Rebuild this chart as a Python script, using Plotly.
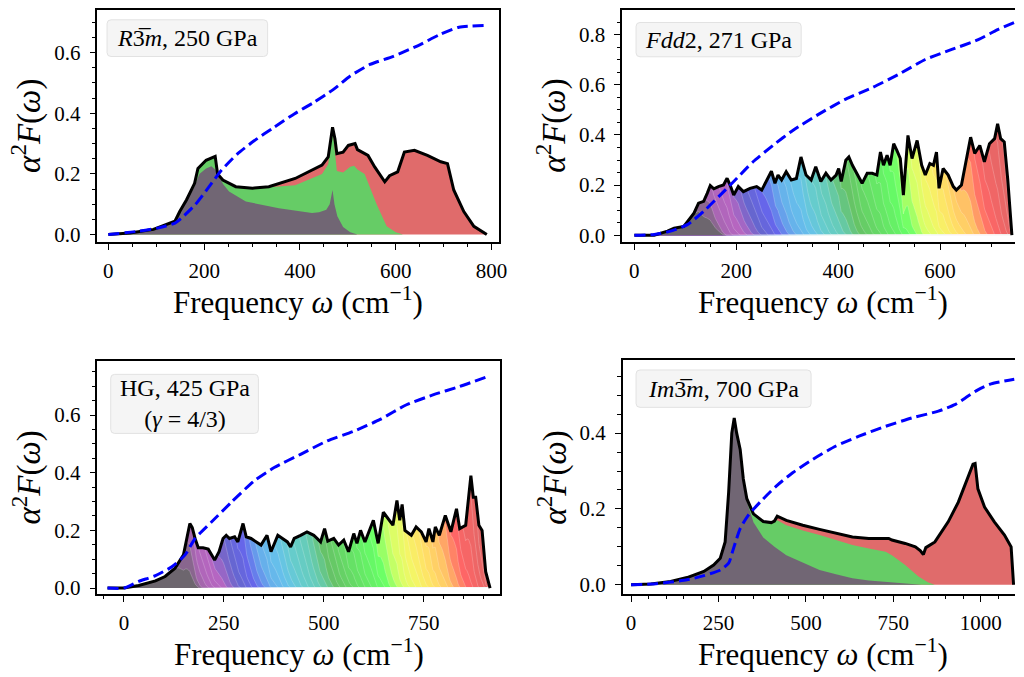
import numpy as np
import plotly.graph_objects as go

W, H = 1024, 677

# ---------------- data ----------------
# Panel 1: R-3m, 250 GPa (three stacked contributions)
p1_w = [0, 45, 94, 139, 149, 163, 180, 187, 204, 214, 223, 228, 239, 266, 301, 335, 390, 446, 459, 468,
        473, 477, 490, 501, 515, 520, 542, 556, 577, 587, 604, 618, 639, 666, 694, 708, 721, 742, 763, 790]
p1_total = [0, 0.005, 0.017, 0.044, 0.076, 0.114, 0.169, 0.218, 0.245, 0.253, 0.258, 0.200, 0.180, 0.158,
            0.153, 0.158, 0.185, 0.229, 0.256, 0.354, 0.316, 0.267, 0.272, 0.294, 0.300, 0.280, 0.261, 0.223,
            0.174, 0.194, 0.207, 0.272, 0.278, 0.261, 0.240, 0.234, 0.147, 0.076, 0.027, 0.0]
p1_green_w = [0, 45, 94, 139, 149, 163, 180, 187, 204, 214, 223, 228, 239, 266, 301, 335, 390, 446, 459, 468,
              473, 477, 490, 505, 513, 520, 535, 546, 560, 581, 600, 615]
p1_green = [0, 0.005, 0.017, 0.044, 0.076, 0.114, 0.169, 0.218, 0.245, 0.253, 0.258, 0.200, 0.180, 0.158,
            0.153, 0.156, 0.163, 0.200, 0.232, 0.350, 0.280, 0.210, 0.205, 0.224, 0.227, 0.215, 0.200, 0.153,
            0.100, 0.027, 0.008, 0.0]
p1_gray_w = [0, 45, 94, 139, 149, 163, 180, 190, 204, 215, 223, 232, 240, 252, 287, 356, 425, 440, 455, 462,
             468, 472, 478, 490, 505, 520]
p1_gray = [0, 0.005, 0.017, 0.044, 0.076, 0.110, 0.160, 0.200, 0.218, 0.225, 0.215, 0.190, 0.165, 0.142,
           0.109, 0.087, 0.071, 0.074, 0.082, 0.100, 0.147, 0.100, 0.060, 0.025, 0.008, 0.0]
p1_lambda_w = [0, 63, 105, 139, 153, 181, 208, 236, 270, 305, 346, 388, 429, 470, 505, 546, 595, 650, 691, 732, 788]
p1_lambda = [0, 0.011, 0.022, 0.038, 0.055, 0.098, 0.153, 0.212, 0.267, 0.310, 0.354, 0.398, 0.436, 0.479,
             0.523, 0.561, 0.588, 0.626, 0.659, 0.684, 0.690]

# Panel 2: Fdd2, 271 GPa (many projected contributions)
p2_w = [0, 39, 65, 78, 97, 107, 117, 126, 136, 143, 149, 156, 165, 175, 182, 188, 195, 204, 214, 227, 240,
        250, 259, 269, 276, 282, 289, 298, 308, 318, 327, 337, 347, 356, 366, 376, 386, 396, 401, 406, 415,
        421, 428, 438, 447, 457, 467, 476, 483, 489, 496, 502, 509, 515, 522, 528, 537, 545, 555, 564, 571,
        580, 587, 593, 598, 606, 616, 626, 632, 642, 652, 660, 668, 678, 687, 697, 707, 713, 719, 726, 733, 741]
p2_total = [0, 0, 0.016, 0.028, 0.035, 0.062, 0.088, 0.128, 0.135, 0.167, 0.198, 0.185, 0.194, 0.200, 0.227,
            0.200, 0.160, 0.194, 0.174, 0.187, 0.194, 0.180, 0.214, 0.255, 0.207, 0.240, 0.220, 0.253, 0.220,
            0.226, 0.312, 0.240, 0.220, 0.273, 0.214, 0.247, 0.220, 0.240, 0.266, 0.214, 0.299, 0.312, 0.279,
            0.240, 0.207, 0.247, 0.247, 0.240, 0.332, 0.279, 0.319, 0.279, 0.365, 0.339, 0.306, 0.160, 0.398,
            0.306, 0.378, 0.279, 0.240, 0.286, 0.279, 0.332, 0.187, 0.266, 0.240, 0.194, 0.180, 0.200, 0.306,
            0.391, 0.326, 0.358, 0.293, 0.365, 0.385, 0.444, 0.385, 0.372, 0.220, 0.0]
p2_lambda_w = [0, 39, 71, 104, 136, 169, 195, 233, 272, 311, 363, 415, 467, 519, 571, 623, 675, 713, 746]
p2_lambda = [0, 0.003, 0.016, 0.042, 0.095, 0.161, 0.214, 0.293, 0.358, 0.418, 0.484, 0.543, 0.589, 0.642,
             0.701, 0.741, 0.780, 0.820, 0.849]
p2_first_edge, p2_band_lo, p2_band_hi, p2_nbands = 115, 138, 722, 45

# Panel 3: HG, 425 GPa (gamma = 4/3)
p3_w = [-41, 0, 37, 79, 103, 128, 149, 157, 165, 171, 178, 186, 198, 211, 219, 227, 238, 248, 256, 264, 277,
        285, 298, 306, 318, 331, 343, 358, 368, 385, 397, 409, 417, 426, 442, 458, 475, 492, 502, 510, 525,
        537, 550, 562, 575, 583, 592, 603, 624, 636, 649, 661, 673, 683, 690, 696, 703, 719, 731, 744, 756,
        763, 773, 779, 789, 804, 818, 832, 840, 855, 863, 868, 874, 880, 888, 896, 905, 916]
p3_total = [0, 0, 0.009, 0.025, 0.040, 0.069, 0.115, 0.172, 0.224, 0.210, 0.172, 0.140, 0.140, 0.135, 0.115,
            0.097, 0.126, 0.172, 0.183, 0.172, 0.178, 0.160, 0.224, 0.178, 0.172, 0.160, 0.149, 0.183, 0.126,
            0.183, 0.172, 0.160, 0.143, 0.172, 0.183, 0.195, 0.183, 0.160, 0.206, 0.163, 0.172, 0.149, 0.166,
            0.126, 0.189, 0.155, 0.200, 0.160, 0.235, 0.155, 0.263, 0.240, 0.218, 0.304, 0.235, 0.290, 0.200,
            0.183, 0.212, 0.195, 0.160, 0.206, 0.160, 0.212, 0.183, 0.252, 0.195, 0.275, 0.206, 0.218, 0.327,
            0.390, 0.315, 0.315, 0.218, 0.200, 0.057, 0.0]
p3_lambda_w = [-41, 0, 37, 79, 120, 153, 178, 219, 269, 326, 376, 442, 508, 575, 641, 707, 773, 839, 909]
p3_lambda = [0, 0, 0.023, 0.043, 0.074, 0.115, 0.172, 0.229, 0.298, 0.372, 0.418, 0.464, 0.510, 0.544,
             0.585, 0.636, 0.670, 0.699, 0.733]
p3_first_edge, p3_band_lo, p3_band_hi, p3_nbands = 128, 155, 895, 50

# Panel 4: Im-3m, 700 GPa (three stacked contributions)
p4_w = [0, 57, 113, 160, 208, 236, 255, 269, 279, 288, 295, 302, 312, 321, 331, 350, 378, 401, 410, 418, 444,
        491, 539, 586, 633, 680, 737, 746, 784, 813, 827, 836, 843, 869, 884, 907, 936, 959, 978, 984, 992,
        1011, 1039, 1068, 1087, 1094]
p4_total = [0, 0.002, 0.009, 0.019, 0.035, 0.052, 0.070, 0.113, 0.244, 0.400, 0.440, 0.400, 0.357, 0.279,
            0.227, 0.187, 0.167, 0.164, 0.168, 0.181, 0.170, 0.157, 0.146, 0.135, 0.126, 0.122, 0.122, 0.118,
            0.109, 0.100, 0.090, 0.080, 0.098, 0.113, 0.135, 0.166, 0.218, 0.270, 0.318, 0.320, 0.253, 0.205,
            0.166, 0.131, 0.100, 0.0]
p4_green_w = [0, 57, 113, 160, 208, 236, 255, 269, 279, 288, 295, 302, 312, 321, 331, 350, 378, 401, 410, 418,
              444, 491, 539, 586, 633, 680, 728, 746, 784, 822, 850, 869]
p4_green = [0, 0.002, 0.009, 0.019, 0.035, 0.052, 0.070, 0.113, 0.244, 0.400, 0.440, 0.400, 0.357, 0.279,
            0.227, 0.187, 0.167, 0.164, 0.168, 0.170, 0.157, 0.143, 0.131, 0.118, 0.105, 0.096, 0.087, 0.078,
            0.052, 0.022, 0.006, 0.0]
p4_gray_w = [0, 57, 113, 160, 208, 236, 255, 269, 279, 288, 295, 302, 312, 321, 331, 350, 378, 410, 444, 491,
             539, 586, 633, 680, 728, 780, 830]
p4_gray = [0, 0.002, 0.009, 0.019, 0.035, 0.052, 0.070, 0.113, 0.244, 0.400, 0.440, 0.400, 0.357, 0.270,
           0.220, 0.165, 0.125, 0.100, 0.078, 0.058, 0.039, 0.028, 0.017, 0.011, 0.007, 0.003, 0.0]
p4_lambda_w = [0, 57, 113, 160, 208, 255, 279, 293, 312, 335, 369, 416, 463, 520, 586, 652, 728, 803, 879,
               926, 963, 992, 1030, 1096]
p4_lambda = [0, 0.002, 0.007, 0.013, 0.024, 0.039, 0.057, 0.096, 0.148, 0.183, 0.218, 0.261, 0.296, 0.331,
             0.366, 0.392, 0.418, 0.440, 0.458, 0.475, 0.497, 0.514, 0.530, 0.542]

panel_labels = ["<i>R</i>3\u0305<i>m</i>, 250 GPa", "<i>Fdd</i>2, 271 GPa",
                "HG, 425 GPa<br>(<i>\u03b3</i> = 4/3)", "<i>Im</i>3\u0305<i>m</i>, 700 GPa"]

# ---------------- style ----------------
GRAY, GREEN, RED = "#716674", "#66cc66", "#e06b6b"
FONT = "Liberation Serif"

_ns_t = [0, .05, .10, .15, .20, .25, .30, .35, .40, .45, .50, .55, .60, .65, .70, .75, .80, .85, .90, .95, 1.0]
_ns_r = [0, .4667, .5333, 0, 0, 0, 0, 0, 0, 0, 0, 0, 0, .7333, .9333, 1, 1, 1, .8667, .8, .8]
_ns_g = [0, 0, 0, 0, 0, .4667, .6, .6667, .6667, .6, .7333, .8667, 1, 1, .9333, .8, .6, 0, 0, 0, .8]
_ns_b = [0, .5333, .6, .6667, .8667, .8667, .8667, .6667, .5333, 0, 0, 0, 0, 0, 0, 0, 0, 0, 0, 0, .8]


def spectral(t, a=0.6):
    c = [np.interp(t, _ns_t, ch) for ch in (_ns_r, _ns_g, _ns_b)]
    return "rgb(%d,%d,%d)" % tuple(round(255 * (1 - a + a * v)) for v in c)


# pixel geometry of the four axes boxes: (left, right, top, bottom)
boxes = [(98.3, 503.0, 10, 244), (627.7, 1024, 10, 244), (98.3, 504.3, 364.3, 599.3), (628.3, 1024, 363.7, 599.3)]
xranges = [(-22.8, 814.6), (-23.9, 747.1), (-66.2, 940.5), (-23.8, 1098.1)]
yranges = [(-0.024, 0.741), (-0.0265, 0.8988), (-0.0206, 0.7875), (-0.0243, 0.5916)]
xdticks = [200, 200, 250, 250]
label_boxes = [(108, 270, 20, 57), (641.7, 808.3, 22.7, 57.3), (111.7, 260.7, 377.7, 437.3), (641.7, 818.3, 373.3, 411)]

fig = go.Figure()


def axn(i):
    return ("x" if i == 0 else "x%d" % (i + 1)), ("y" if i == 0 else "y%d" % (i + 1))


def add_line(i, x, y, **kw):
    xa, ya = axn(i)
    fig.add_trace(go.Scatter(x=x, y=y, mode="lines", xaxis=xa, yaxis=ya, showlegend=False,
                             hoverinfo="skip", **kw))


def add_three(i, total_w, total, green_w, green, gray_w, gray):
    add_line(i, total_w, total, fill="tozeroy", fillcolor=RED, line=dict(width=0))
    add_line(i, green_w, green, fill="tozeroy", fillcolor=GREEN, line=dict(width=0))
    add_line(i, gray_w, gray, fill="tozeroy", fillcolor=GRAY, line=dict(width=0))


def add_rainbow(i, tw, tot, first_edge, lo, hi, n):
    tw = np.asarray(tw, float)
    tot = np.asarray(tot, float)
    edges = [first_edge] + list(np.linspace(lo, hi, n - 2))
    widths = [62] + [42] * (n - 2)
    extra = []
    for e, wd in zip(edges, widths):
        extra += list(e + wd * np.array([0, 0.15, 0.3, 0.5, 0.7, 0.85, 1.0]))
    xs = np.unique(np.concatenate([tw, np.array(extra)]))
    xs = xs[(xs >= tw[0]) & (xs <= tw[-1])]
    ys = np.interp(xs, tw, tot)  # value of the drawn polyline
    # top band (full curve) first, then cumulative boundaries downwards
    add_line(i, list(xs), list(ys), fill="tozeroy", fillcolor=spectral(0.95), line=dict(width=0))
    for k in range(n - 2, -1, -1):
        e, wd = edges[k], widths[k]
        u = np.clip((xs - e) / wd, 0, 1)
        s = (1 - u) ** 1.5
        t = 0.005 + 0.945 * k / (n - 1)
        add_line(i, list(xs), list(ys * s), fill="tozeroy", fillcolor=spectral(t),
                 line=dict(width=0.6, color="rgba(255,255,255,0.35)"))


add_three(0, p1_w, p1_total, p1_green_w, p1_green, p1_gray_w, p1_gray)
add_rainbow(1, p2_w, p2_total, p2_first_edge, p2_band_lo, p2_band_hi, p2_nbands)
add_rainbow(2, p3_w, p3_total, p3_first_edge, p3_band_lo, p3_band_hi, p3_nbands)
add_three(3, p4_w, p4_total, p4_green_w, p4_green, p4_gray_w, p4_gray)

totals = [(p1_w, p1_total), (p2_w, p2_total), (p3_w, p3_total), (p4_w, p4_total)]
lambdas = [(p1_lambda_w, p1_lambda), (p2_lambda_w, p2_lambda), (p3_lambda_w, p3_lambda), (p4_lambda_w, p4_lambda)]
for i in range(4):
    add_line(i, totals[i][0], totals[i][1], line=dict(color="black", width=3.0))
for i in range(4):
    add_line(i, lambdas[i][0], lambdas[i][1],
             line=dict(color="#0000ff", width=3.0, dash="11px,5px", shape="spline", smoothing=0.6))

layout = dict(width=W, height=H, margin=dict(l=0, r=0, t=0, b=0), plot_bgcolor="white",
              paper_bgcolor="white", showlegend=False)
shapes, annotations = [], []


def px2p(x, y):
    return x / W, 1 - y / H


for i in range(4):
    l, r, t, b = boxes[i]
    xa, ya = axn(i)
    xk = "xaxis" if i == 0 else "xaxis%d" % (i + 1)
    yk = "yaxis" if i == 0 else "yaxis%d" % (i + 1)
    cut = i in (1, 3)
    layout[xk] = dict(domain=[l / W, min(r / W, 1.0)], range=list(xranges[i]), anchor=ya,
                      showline=True, linecolor="black", linewidth=1.6, mirror=True,
                      ticks="outside", ticklen=6, tickwidth=1.3, tickcolor="black",
                      tick0=0, dtick=xdticks[i], showgrid=False, zeroline=False,
                      tickfont=dict(family=FONT, size=21, color="black"), ticklabelstandoff=3,
                      minor=dict(ticks="outside", ticklen=3.5, tickwidth=1, tickcolor="black",
                                 tick0=0, dtick=50, showgrid=False))
    layout[yk] = dict(domain=[1 - b / H, 1 - t / H], range=list(yranges[i]), anchor=xa,
                      showline=True, linecolor="black", linewidth=1.6, mirror=(not cut),
                      ticks="outside", ticklen=6, tickwidth=1.3, tickcolor="black",
                      tick0=0, dtick=0.2, tickformat=".1f", showgrid=False, zeroline=False,
                      tickfont=dict(family=FONT, size=21, color="black"), ticklabelstandoff=5,
                      minor=dict(ticks="outside", ticklen=3.5, tickwidth=1, tickcolor="black",
                                 tick0=0, dtick=0.05, showgrid=False))
    # rounded label box
    bl, br, bt, bb = label_boxes[i]
    rad = 4
    pts = [("M", br - rad, bt), ("Q", br, bt, br, bt + rad), ("L", br, bb - rad), ("Q", br, bb, br - rad, bb),
           ("L", bl + rad, bb), ("Q", bl, bb, bl, bb - rad), ("L", bl, bt + rad), ("Q", bl, bt, bl + rad, bt)]
    path = ""
    for p in pts:
        cmd = p[0]
        coords = p[1:]
        seg = []
        for j in range(0, len(coords), 2):
            xx, yy = px2p(coords[j], coords[j + 1])
            seg.append("%.5f,%.5f" % (xx, yy))
        path += cmd + " " + " ".join(seg) + " "
    path += "Z"
    shapes.append(dict(type="path", xref="paper", yref="paper", path=path, fillcolor="rgba(244,244,244,0.95)",
                       line=dict(color="#e2e2e2", width=1), layer="above"))
    cx, cy = px2p((bl + br) / 2, (bt + bb) / 2)
    annotations.append(dict(xref="paper", yref="paper", x=cx, y=cy, text=panel_labels[i], showarrow=False,
                            xanchor="center", yanchor="middle", align="center",
                            font=dict(family=FONT, size=24, color="black")))
    # axis titles
    ax, ay = px2p((l + r) / 2 if not cut else 830, b + 59)
    annotations.append(dict(xref="paper", yref="paper", x=ax, y=ay, showarrow=False,
                            text="Frequency <i>\u03c9</i> (cm<sup>\u22121</sup>)",
                            xanchor="center", yanchor="middle",
                            font=dict(family=FONT, size=31, color="black")))
    yx, yy = px2p(l - 71, (t + b) / 2)
    annotations.append(dict(xref="paper", yref="paper", x=yx, y=yy, showarrow=False, textangle=-90,
                            text="<i>\u03b1</i><sup>2</sup><i>F</i>(<i>\u03c9</i>)",
                            xanchor="center", yanchor="middle",
                            font=dict(family=FONT, size=33, color="black")))

layout["shapes"] = shapes
layout["annotations"] = annotations
fig.update_layout(**layout)
fig.write_html("out.html")
